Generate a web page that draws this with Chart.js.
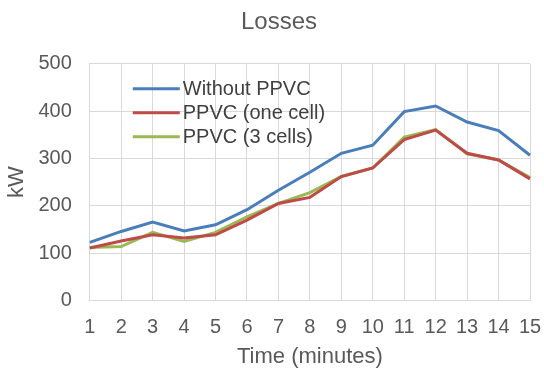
<!DOCTYPE html>
<html>
<head>
<meta charset="utf-8">
<script src="https://cdn.jsdelivr.net/npm/chart.js@4"></script>
<style>
  html, body { margin: 0; padding: 0; background: #fff; }
  #wrap { width: 544px; height: 371px; }
</style>
</head>
<body>
<div id="wrap"><canvas id="chart"></canvas></div>
<script>
// =====================
// DATA
// =====================
const minutes = ["1","2","3","4","5","6","7","8","9","10","11","12","13","14","15"];
const withoutPPVC = [123, 146, 166, 147, 160, 192, 233, 271, 311, 328, 399, 411, 377, 359, 307];
const ppvcOneCell = [111, 126, 139, 132, 139, 170, 205, 218, 262, 280, 340, 360, 311, 297, 257];
const ppvcThreeCells = [112, 114, 144, 125, 144, 177, 205, 228, 262, 280, 345, 361, 310, 297, 260];
const yTicks = [0, 100, 200, 300, 400, 500];

const FONT = "'Liberation Sans', Arial, sans-serif";
const TEXT = "#595959";

// legend drawn inside the plot area, like the original
const insideLegend = {
  id: "insideLegend",
  afterDraw(chart) {
    const { ctx, chartArea } = chart;
    const x0 = chartArea.left + 43;
    const y0 = chartArea.top + 25;
    ctx.save();
    ctx.font = "20px " + FONT;
    ctx.textBaseline = "middle";
    chart.data.datasets.forEach((ds, i) => {
      const y = y0 + i * 24;
      ctx.strokeStyle = ds.borderColor;
      ctx.lineWidth = 3;
      ctx.beginPath();
      ctx.moveTo(x0, y);
      ctx.lineTo(x0 + 47, y);
      ctx.stroke();
      ctx.fillStyle = "#404040";
      ctx.fillText(ds.label, x0 + 50, y + 1);
    });
    ctx.restore();
  }
};

new Chart(document.getElementById("chart"), {
  type: "line",
  data: {
    labels: minutes,
    datasets: [
      { label: "Without PPVC", data: withoutPPVC, borderColor: "#4A7EBB", backgroundColor: "#4A7EBB" },
      { label: "PPVC (one cell)", data: ppvcOneCell, borderColor: "#BE4B48", backgroundColor: "#BE4B48" },
      { label: "PPVC (3 cells)", data: ppvcThreeCells, borderColor: "#98B954", backgroundColor: "#98B954" }
    ]
  },
  options: {
    responsive: true,
    maintainAspectRatio: false,
    animation: false,
    layout: { padding: { left: 14, right: 0, top: 0, bottom: 0 } },
    elements: {
      line: { borderWidth: 3, tension: 0 },
      point: { radius: 0 }
    },
    plugins: {
      legend: { display: false },
      tooltip: { enabled: false },
      title: {
        display: true,
        text: "Losses",
        color: TEXT,
        font: { family: FONT, size: 24, weight: "normal" },
        padding: { top: 8, bottom: 27 }
      }
    },
    scales: {
      x: {
        offset: false,
        afterFit(scale) { scale.paddingRight = 14; },
        grid: { color: "#D9D9D9", lineWidth: 1, drawTicks: false },
        border: { color: "#D9D9D9" },
        ticks: { color: TEXT, font: { family: FONT, size: 20 }, padding: 15, maxRotation: 0, autoSkip: false },
        title: { display: true, text: "Time (minutes)", color: TEXT, font: { family: FONT, size: 22 }, padding: { top: -11, bottom: 1 } }
      },
      y: {
        min: 0,
        max: 500,
        afterBuildTicks(axis) { axis.ticks = yTicks.map(v => ({ value: v })); },
        grid: { color: "#D9D9D9", lineWidth: 1, drawTicks: false },
        border: { color: "#D9D9D9" },
        ticks: { color: TEXT, font: { family: FONT, size: 20 }, padding: 18 },
        title: { display: true, text: "kW", color: TEXT, font: { family: FONT, size: 22 }, padding: { top: -10, bottom: -10 } }
      }
    }
  },
  plugins: [insideLegend]
});
</script>
</body>
</html>
